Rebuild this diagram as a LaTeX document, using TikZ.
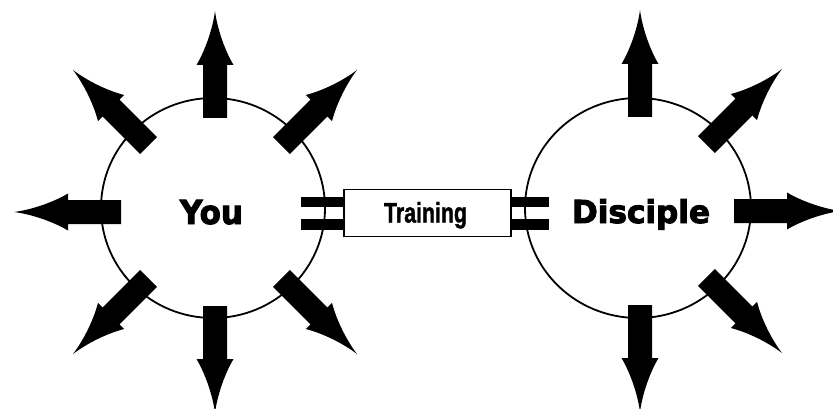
\documentclass[tikz,border=0pt]{standalone}
\usepackage{fontspec}
\usepackage{graphicx}
\usetikzlibrary{shapes.geometric}
\newfontfamily\heavyfont{DejaVu Sans Bold}[FakeBold=3]
\newfontfamily\narrowfont{Liberation Sans Bold}[FakeBold=1.5]
\tikzset{
  ring/.style={draw, line width=1.8pt, ellipse, inner sep=0pt},
  plug/.style={fill=black},
  label/.style={anchor=base, inner sep=0pt},
  pics/fatarrow/.style={code={
    \fill (94,-12) -- (147,-12) -- (147,-18.5)
      .. controls (163,-9) and (185,-2) .. (201,0)
      .. controls (185,2) and (163,9) .. (147,18.5)
      -- (147,12) -- (94,12) -- cycle;
  }},
}
\begin{document}
\begin{tikzpicture}[x=1pt,y=-1pt]
\clip (0,0) rectangle (833,409);
\fill[white] (0,0) rectangle (833,409);
% circles
\node[ring, minimum width=224pt, minimum height=220pt] (you) at (213,208) {};
\node[ring, minimum width=226pt, minimum height=220pt] (disc) at (638,208) {};
\coordinate (youc) at (215,212);
\coordinate (discc) at (640,211);
% arrows
\foreach \a in {45,90,135,180,225,270,315} \pic[rotate=\a] at (youc) {fatarrow};
\foreach \a in {-90,-45,0,45,90} \pic[rotate=\a] at (discc) {fatarrow};
% training box
\node[draw, line width=1.8pt, minimum width=167pt, minimum height=47pt, inner sep=0pt] (train) at (427.5,213) {};
% plugs
\fill[plug] ([yshift=5.7pt]train.west) rectangle ([xshift=-42pt,yshift=16pt]train.west);
\fill[plug] ([yshift=-6pt]train.west) rectangle ([xshift=-42pt,yshift=-17pt]train.west);
\fill[plug] ([yshift=5.7pt]train.east) rectangle ([xshift=37pt,yshift=16pt]train.east);
\fill[plug] ([yshift=-6pt]train.east) rectangle ([xshift=37pt,yshift=-17pt]train.east);
% labels
\node[label] (youlbl) at (211.5,224) {\resizebox{63pt}{24pt}{\heavyfont You}};
\node[label] (disclbl) at (641,223) {\resizebox{138pt}{24pt}{\heavyfont Disciple}};
\node[label] (trainlbl) at (425.5,222.5) {\resizebox{83pt}{20.5pt}{\narrowfont Training}};
\end{tikzpicture}
\end{document}
